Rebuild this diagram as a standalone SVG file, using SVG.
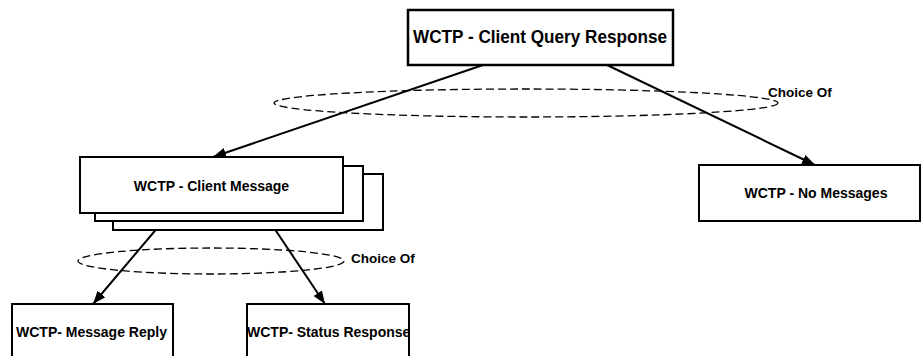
<svg xmlns="http://www.w3.org/2000/svg" width="923" height="356" viewBox="0 0 923 356">
<style>
.box{fill:#fff;stroke:#000;stroke-width:2}
.lbl{font-family:"Liberation Sans",Arial,sans-serif;font-weight:bold;font-size:14px;fill:#000}
.conn{stroke:#000;stroke-width:2;fill:none}
.choice{fill:none;stroke:#000;stroke-width:1.3;stroke-dasharray:8,4}
</style>
<defs>
<marker id="arr" markerUnits="userSpaceOnUse" markerWidth="14" markerHeight="12" refX="13" refY="5" orient="auto">
<path d="M0,0 L13,5 L0,10 z" fill="#000"/>
</marker>
</defs>
<rect width="923" height="356" fill="#fff"/>
<g id="connectors">
<line class="conn" x1="483" y1="65" x2="213" y2="157" marker-end="url(#arr)"/>
<line class="conn" x1="607" y1="65" x2="815" y2="165" marker-end="url(#arr)"/>
<line class="conn" x1="170" y1="213" x2="93" y2="304" marker-end="url(#arr)"/>
<line class="conn" x1="264" y1="213" x2="325" y2="304" marker-end="url(#arr)"/>
<ellipse class="choice" cx="526" cy="103" rx="252" ry="14"/>
<ellipse class="choice" cx="211" cy="261" rx="133" ry="13"/>
<text class="lbl" x="768" y="97" style="font-size:13.5px">Choice Of</text>
<text class="lbl" x="351" y="263" style="font-size:13.5px">Choice Of</text>
</g>
<g id="client-query-response">
<rect class="box" x="408" y="10" width="265" height="55" style="stroke-width:2.5"/>
<text class="lbl" x="540" y="43" text-anchor="middle" style="font-size:18px" textLength="254" lengthAdjust="spacingAndGlyphs">WCTP - Client Query Response</text>
</g>
<g id="client-message">
<rect class="box" x="113" y="174" width="270" height="56"/>
<rect class="box" x="95" y="166" width="268" height="55"/>
<rect class="box" x="80" y="157" width="263" height="56"/>
<text class="lbl" x="211.5" y="191" text-anchor="middle">WCTP - Client Message</text>
</g>
<g id="no-messages">
<rect class="box" x="699" y="165" width="221" height="56"/>
<text class="lbl" x="816" y="198" text-anchor="middle">WCTP - No Messages</text>
</g>
<g id="message-reply">
<rect class="box" x="12" y="304" width="161" height="60"/>
<text class="lbl" x="91.5" y="337" text-anchor="middle">WCTP- Message Reply</text>
</g>
<g id="status-response">
<rect class="box" x="247" y="304" width="162" height="60"/>
<text class="lbl" x="247" y="337">WCTP- Status Response</text>
</g>
</svg>
